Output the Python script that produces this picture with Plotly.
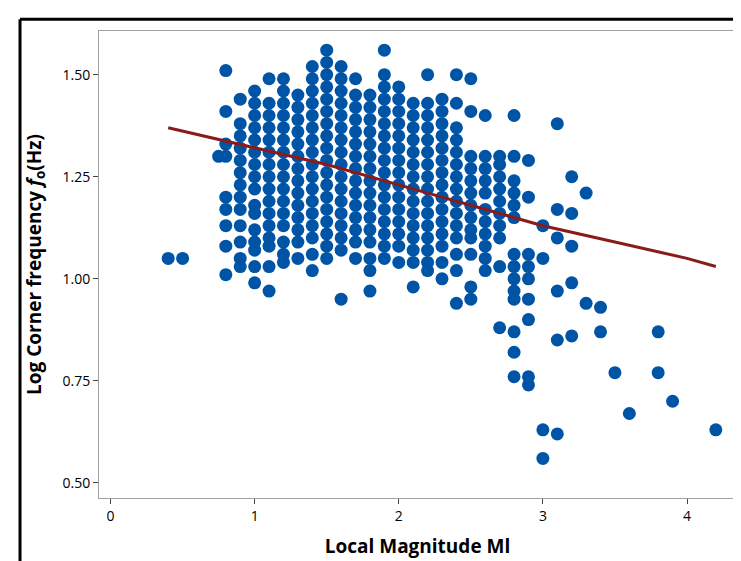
import plotly.graph_objects as go

# magnitude columns and the corner-frequency values read in each column
mag_cols = [0.4, 0.5, 0.75, 0.8, 0.9, 1.0, 1.1, 1.2, 1.3, 1.4, 1.5, 1.6, 1.7, 1.8, 1.9,
            2.0, 2.1, 2.2, 2.3, 2.4, 2.5, 2.6, 2.7, 2.8, 2.9, 3.0, 3.1, 3.2, 3.3, 3.4,
            3.5, 3.6, 3.8, 3.9, 4.2]
logfc_cols = [
    [1.05],
    [1.05],
    [1.30],
    [1.51, 1.41, 1.33, 1.30, 1.20, 1.17, 1.13, 1.08, 1.01],
    [1.44, 1.38, 1.35, 1.32, 1.29, 1.26, 1.23, 1.20, 1.17, 1.13, 1.09, 1.05, 1.03],
    [1.46, 1.43, 1.40, 1.37, 1.34, 1.31, 1.28, 1.25, 1.22, 1.18, 1.16, 1.12, 1.09, 1.07, 1.03, 0.99],
    [1.49, 1.43, 1.40, 1.37, 1.34, 1.31, 1.28, 1.25, 1.22, 1.19, 1.16, 1.13, 1.10, 1.08, 1.03, 0.97],
    [1.49, 1.46, 1.43, 1.40, 1.37, 1.34, 1.31, 1.28, 1.25, 1.22, 1.19, 1.16, 1.13, 1.09, 1.06, 1.04],
    [1.45, 1.42, 1.39, 1.36, 1.33, 1.30, 1.27, 1.24, 1.21, 1.18, 1.15, 1.12, 1.09, 1.05],
    [1.52, 1.49, 1.46, 1.43, 1.40, 1.37, 1.34, 1.31, 1.28, 1.25, 1.22, 1.19, 1.16, 1.13, 1.10, 1.06, 1.02],
    [1.56, 1.53, 1.50, 1.47, 1.44, 1.41, 1.38, 1.35, 1.32, 1.29, 1.26, 1.23, 1.20, 1.17, 1.14, 1.11, 1.08, 1.05],
    [1.52, 1.49, 1.46, 1.43, 1.40, 1.37, 1.34, 1.31, 1.28, 1.25, 1.22, 1.19, 1.16, 1.13, 1.10, 1.07, 0.95],
    [1.49, 1.45, 1.42, 1.39, 1.36, 1.33, 1.30, 1.27, 1.24, 1.21, 1.18, 1.15, 1.12, 1.09, 1.05],
    [1.45, 1.42, 1.39, 1.36, 1.33, 1.30, 1.27, 1.24, 1.21, 1.18, 1.15, 1.12, 1.09, 1.05, 1.02, 0.97],
    [1.56, 1.50, 1.47, 1.44, 1.41, 1.38, 1.35, 1.32, 1.29, 1.26, 1.23, 1.20, 1.17, 1.14, 1.11, 1.08, 1.05],
    [1.47, 1.44, 1.41, 1.38, 1.35, 1.32, 1.29, 1.26, 1.23, 1.20, 1.17, 1.14, 1.11, 1.08, 1.04],
    [1.43, 1.40, 1.37, 1.34, 1.31, 1.28, 1.25, 1.22, 1.19, 1.16, 1.13, 1.10, 1.07, 1.04, 0.98],
    [1.50, 1.43, 1.40, 1.37, 1.34, 1.31, 1.28, 1.25, 1.22, 1.19, 1.16, 1.13, 1.10, 1.07, 1.04, 1.02],
    [1.44, 1.41, 1.38, 1.35, 1.32, 1.29, 1.26, 1.23, 1.20, 1.17, 1.14, 1.11, 1.08, 1.04, 1.00],
    [1.50, 1.43, 1.37, 1.34, 1.31, 1.28, 1.25, 1.22, 1.19, 1.16, 1.13, 1.10, 1.06, 1.02, 0.94],
    [1.49, 1.41, 1.30, 1.27, 1.24, 1.21, 1.18, 1.15, 1.12, 1.10, 1.06, 0.98, 0.95],
    [1.40, 1.30, 1.27, 1.24, 1.21, 1.17, 1.14, 1.11, 1.08, 1.05, 1.02],
    [1.30, 1.28, 1.25, 1.22, 1.19, 1.16, 1.13, 1.10, 1.03, 0.88],
    [1.40, 1.30, 1.24, 1.21, 1.18, 1.15, 1.06, 1.03, 1.00, 0.97, 0.95, 0.87, 0.82, 0.76],
    [1.29, 1.20, 1.06, 1.03, 1.00, 0.95, 0.90, 0.76, 0.74],
    [1.13, 1.05, 0.63, 0.56],
    [1.38, 1.17, 1.10, 0.97, 0.85, 0.62],
    [1.25, 1.16, 1.08, 0.99, 0.86],
    [1.21, 0.94],
    [0.93, 0.87],
    [0.77],
    [0.67],
    [0.87, 0.77],
    [0.70],
    [0.63],
]

# smoothed trend
fit_mag = [0.4, 1.0, 1.5, 2.0, 2.5, 3.0, 3.5, 4.0, 4.2]
fit_logfc = [1.37, 1.32, 1.28, 1.23, 1.18, 1.13, 1.09, 1.05, 1.03]

xs, ys = [], []
for m, vals in zip(mag_cols, logfc_cols):
    for v in vals:
        xs.append(m)
        ys.append(v)

fig = go.Figure()
fig.add_trace(go.Scatter(x=xs, y=ys, mode='markers',
                         marker=dict(color='#0054A6', size=13)))
fig.add_trace(go.Scatter(x=fit_mag, y=fit_logfc, mode='lines',
                         line=dict(color='#8B1A1A', width=3)))

fig.update_layout(
    width=741, height=561,
    margin=dict(l=91, r=13, t=23, b=71),
    plot_bgcolor='white', paper_bgcolor='white',
    showlegend=False,
    font=dict(family='Open Sans', size=14, color='black'),
    shapes=[
        dict(type='line', xref='paper', yref='paper', x0=-0.124, x1=-0.124, y0=-0.2, y1=1.025,
             line=dict(color='black', width=3)),
        dict(type='line', xref='paper', yref='paper', x0=-0.124, x1=1.05, y0=1.025, y1=1.025,
             line=dict(color='black', width=3)),
    ],
)
fig.update_xaxes(range=[-0.08, 4.34], tickvals=[0, 1, 2, 3, 4], ticks='outside', ticklen=5,
                 showgrid=False, zeroline=False, showline=True, linecolor='#a0a0a0', mirror=True,
                 tickfont=dict(size=14, color='black'),
                 title=dict(text='<b>Local Magnitude Ml</b>', font=dict(size=19)))
fig.update_yaxes(range=[0.463, 1.607], tickvals=[0.5, 0.75, 1.0, 1.25, 1.5], tickformat='.2f',
                 ticks='outside', ticklen=5,
                 showgrid=False, zeroline=False, showline=True, linecolor='#a0a0a0', mirror=True,
                 tickfont=dict(size=14, color='black'),
                 title=dict(text='<b>Log Corner frequency <i>f</i><sub>o</sub>(Hz)</b>', font=dict(size=19)))

fig.write_html('out.html')
